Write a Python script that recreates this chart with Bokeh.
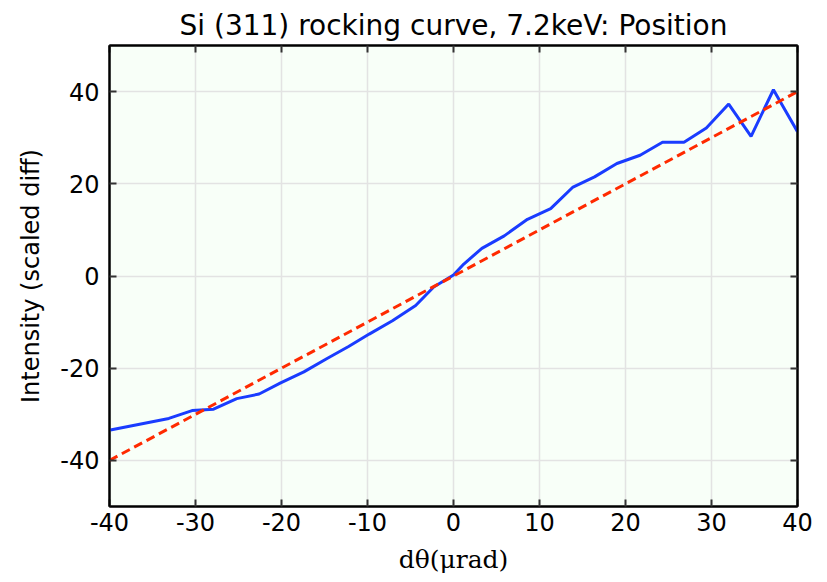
from bokeh.plotting import figure
from bokeh.models import LinearAxis, Range1d, FixedTicker, CustomJSTickFormatter
from bokeh.embed import file_html
from bokeh.resources import INLINE

# data
dtheta = [-39.9, -33.1, -30.4, -27.9, -25.2, -22.6, -20.1, -17.4, -14.7, -12.2, -9.8, -7.1, -4.4,
          -2.3, 0.0, 1.2, 3.3, 5.9, 8.6, 11.3, 13.9, 16.4, 19.0, 21.7, 24.3, 26.8, 29.4, 32.0,
          34.6, 37.2, 40.0]
intensity = [-33.4, -30.9, -29.2, -28.9, -26.6, -25.6, -23.2, -20.8, -17.9, -15.3, -12.6, -9.7, -6.4,
             -2.4, 0.2, 2.6, 6.0, 8.7, 12.3, 14.6, 19.3, 21.5, 24.4, 26.2, 29.0, 29.0, 32.1, 37.3,
             30.3, 40.4, 31.3]
fit_x = [-40, 40]
fit_y = [-40, 40]
xticks = [-40, -30, -20, -10, 0, 10, 20, 30, 40]
yticks = [-40, -20, 0, 20, 40]

p = figure(width=827, height=582, output_backend="svg", toolbar_location=None,
           x_range=Range1d(-40, 40), y_range=Range1d(-50, 50),
           title="Si (311) rocking curve, 7.2keV: Position",
           min_border_left=109, min_border_right=30, min_border_top=45, min_border_bottom=76)

p.title.text_font = "DejaVu Sans"
p.title.text_font_size = "28px"
p.title.text_font_style = "normal"
p.title.align = "center"
p.title.text_color = "black"
p.title.standoff = 8

p.background_fill_color = "#f8fff8"
p.border_fill_color = "white"
p.outline_line_color = "black"
p.outline_line_width = 2

p.line(dtheta, intensity, line_color="#1a3cff", line_width=3)
p.line(fit_x, fit_y, line_color="#ff2a00", line_width=3, line_dash="9 5")

plain = CustomJSTickFormatter(code="return tick.toString();")
for ax in p.xaxis + p.yaxis:
    ax.formatter = plain
    ax.major_label_text_font = "DejaVu Sans"
    ax.major_label_text_font_size = "24px"
    ax.major_label_text_color = "black"
    ax.axis_line_color = "black"
    ax.axis_line_width = 2
    ax.major_tick_in = 7
    ax.major_tick_out = 0
    ax.major_tick_line_width = 2
    ax.major_tick_line_color = "#333333"
    ax.minor_tick_line_color = None

p.xaxis.ticker = FixedTicker(ticks=xticks)
p.yaxis.ticker = FixedTicker(ticks=yticks)
p.xaxis.axis_label = "dθ(μrad)"
p.xaxis.axis_label_text_font = "DejaVu Serif"
p.xaxis.axis_label_text_font_style = "normal"
p.xaxis.axis_label_text_font_size = "25px"
p.xaxis.axis_label_text_color = "black"
p.xaxis.axis_label_standoff = 11
p.yaxis.axis_label = "Intensity (scaled diff)"
p.yaxis.axis_label_text_font = "DejaVu Sans"
p.yaxis.axis_label_text_font_style = "normal"
p.yaxis.axis_label_text_font_size = "24px"
p.yaxis.axis_label_text_color = "black"
p.yaxis.axis_label_standoff = 12
p.xaxis.major_label_standoff = 6
p.yaxis.major_label_standoff = 10

empty = CustomJSTickFormatter(code="return '';")
top = LinearAxis(ticker=FixedTicker(ticks=xticks), formatter=empty,
                 major_tick_in=7, major_tick_out=0, major_tick_line_width=2,
                 major_tick_line_color="#333333", minor_tick_line_color=None,
                 axis_line_color="black", axis_line_width=2, major_label_standoff=0)
right = LinearAxis(ticker=FixedTicker(ticks=yticks), formatter=empty,
                   major_tick_in=7, major_tick_out=0, major_tick_line_width=2,
                   major_tick_line_color="#333333", minor_tick_line_color=None,
                   axis_line_color="black", axis_line_width=2, major_label_standoff=0)
p.add_layout(top, "above")
p.add_layout(right, "right")

p.xgrid.ticker = FixedTicker(ticks=xticks)
p.ygrid.ticker = FixedTicker(ticks=yticks)
p.grid.grid_line_color = "#e3e3e3"
p.grid.grid_line_width = 1.5

open("out.html", "w").write(file_html(p, INLINE))
